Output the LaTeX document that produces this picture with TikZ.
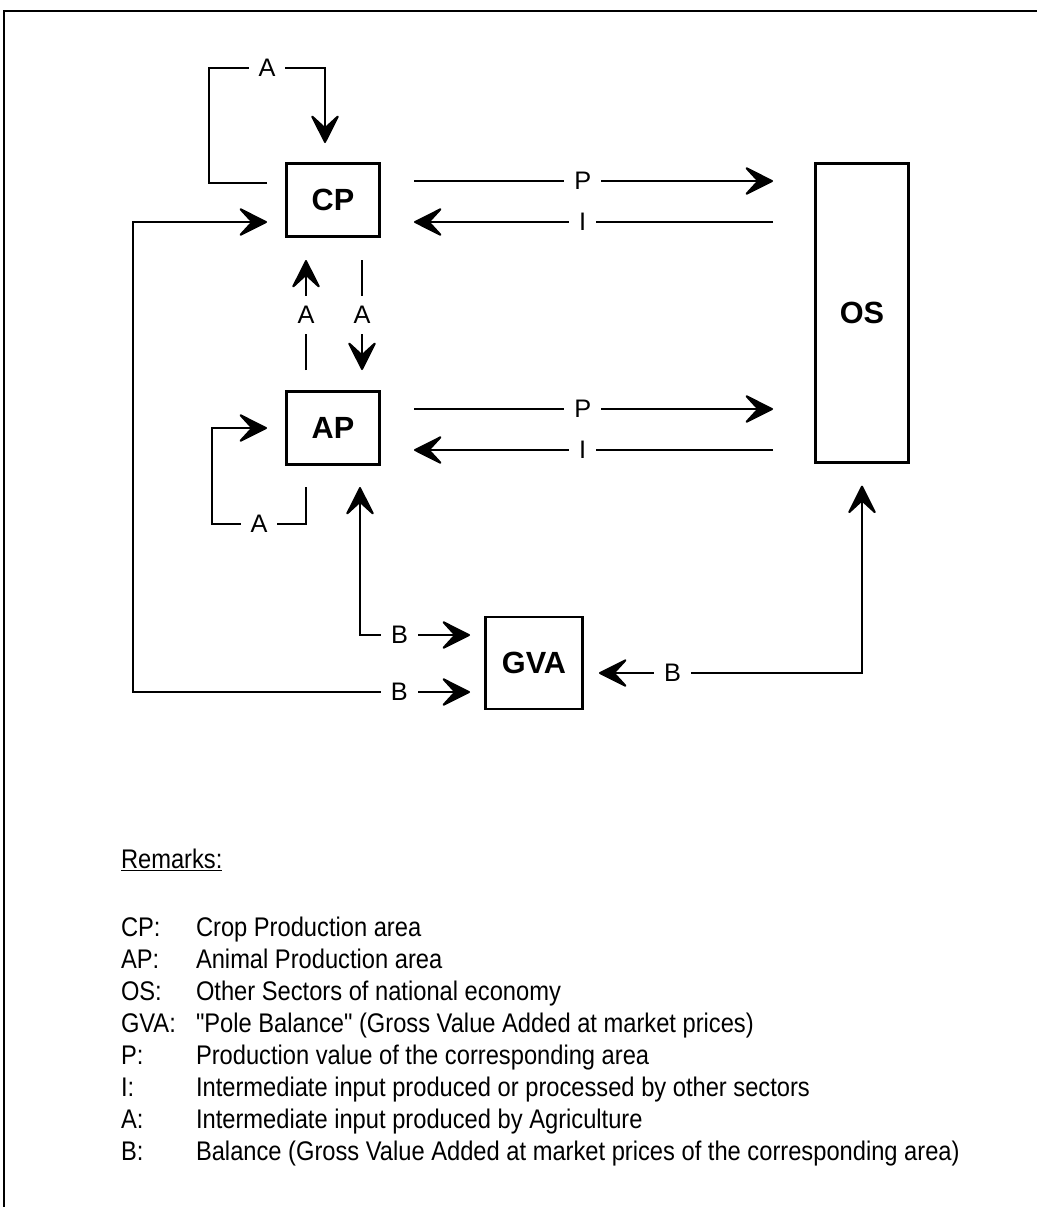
\documentclass[tikz,border=0pt]{standalone}
\usepackage{fontspec}
\setmainfont{Liberation Sans}
\newfontfamily\narrowfont[FakeStretch=0.88]{Liberation Sans}
\usetikzlibrary{arrows.meta,calc}

\tikzset{
  area/.style={draw, line width=2pt, minimum width=70pt, minimum height=55pt,
    font=\bfseries\fontsize{23}{27}\selectfont},
  lbl/.style={fill=white, inner xsep=7.5pt, inner ysep=1pt,
    font=\fontsize{19}{22}\selectfont},
  vlbl/.style={lbl, inner xsep=1pt, inner ysep=7.5pt},
  remark/.style={anchor=base west, inner sep=0pt,
    font=\narrowfont\fontsize{20.2}{24}\selectfont},
}

\begin{document}
\begin{tikzpicture}[x=0.75pt,y=-0.75pt,line width=1.5pt,line join=miter,
    >={Stealth[length=24pt,width=24pt,inset=11pt,line width=1.5pt,round]}]
  \useasboundingbox (0,0) rectangle (1037,1207);
  \draw[line width=2pt] (4,1207)--(4,11)--(1037,11);

  \node[area] (CP) at (333,200) {CP};
  \node[area] (AP) at (333,428) {AP};
  \node[area, minimum height=224pt] (OS) at (862,313) {OS};
  \node[area, minimum width=73pt, minimum height=69pt] (GVA) at (534,663) {GVA};

  % production goes out, intermediate input comes back
  \draw[->] ($(CP.east)+(33,-19)$) -- node[lbl,pos=.47]{P} ($(OS.west|-CP.east)+(-41,-19)$);
  \draw[->] ($(OS.west|-CP.east)+(-41,22)$) -- node[lbl,pos=.53]{I} ($(CP.east)+(33,22)$);
  \draw[->] ($(AP.east)+(33,-19)$) -- node[lbl,pos=.47]{P} ($(OS.west|-AP.east)+(-41,-19)$);
  \draw[->] ($(OS.west|-AP.east)+(-41,22)$) -- node[lbl,pos=.53]{I} ($(AP.east)+(33,22)$);

  % agricultural input inside and between the two areas
  \draw[->] ($(CP.west)+(-18,-17)$) -- ++(-58,0) |- node[lbl,pos=.75]{A} ($(CP.north)+(-8,-94)$)
    -- ($(CP.north)+(-8,-19)$);
  \draw[->] ($(AP.north)+(-27,-20)$) -- node[vlbl]{A} ($(CP.south)+(-27,22)$);
  \draw[->] ($(CP.south)+(29,22)$) -- node[vlbl]{A} ($(AP.north)+(29,-20)$);
  \draw[->] ($(AP.south)+(-27,21)$) |- node[lbl,pos=.75]{A} ++(-94,37) |- ($(AP.west)+(-18,0)$);

  % balances towards the pole
  \draw[<->] ($(CP.west)+(-18,22)$) -- ++(-134,0) |- node[lbl,pos=.895]{B} ($(GVA.west)+(-14,29)$);
  \draw[<->] ($(AP.south)+(27,21)$) |- node[lbl,pos=.68]{B} ($(GVA.west)+(-14,-28)$);
  \draw[<->] ($(OS.south)+(0,22)$) |- node[lbl,pos=.86]{B} ($(GVA.east)+(15,10)$);

  \node[remark] (remarks) at (120,868) {\underline{Remarks:}};
  \foreach \key/\txt [count=\i from 0] in {CP:/Crop Production area,
      AP:/Animal Production area, OS:/Other Sectors of national economy,
      GVA:/"Pole Balance" (Gross Value Added at market prices),
      P:/Production value of the corresponding area,
      I:/Intermediate input produced or processed by other sectors,
      A:/Intermediate input produced by Agriculture,
      B:/Balance (Gross Value Added at market prices of the corresponding area)} {
    \node[remark] (key\i) at (120,936+32*\i) {\key};
    \node[remark] (txt\i) at (195,936+32*\i) {\txt};
  }
\end{tikzpicture}
\end{document}
